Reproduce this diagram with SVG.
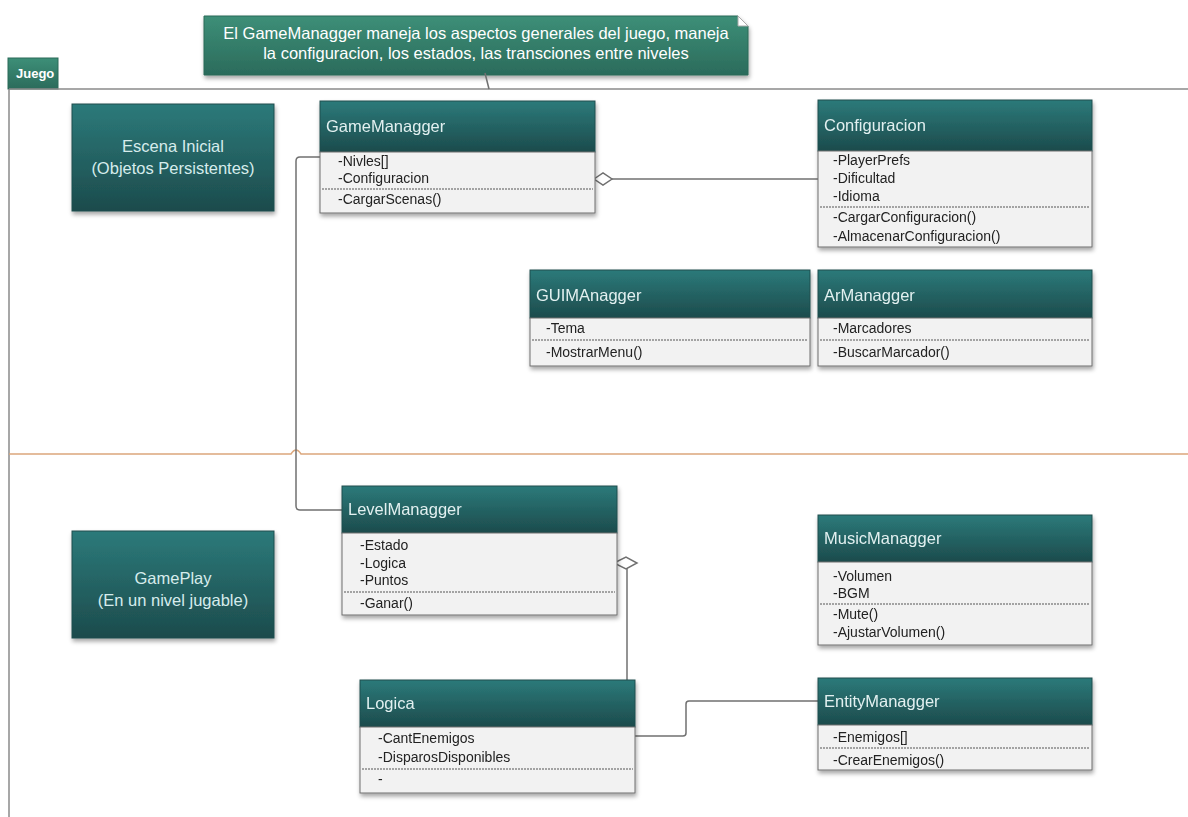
<svg xmlns="http://www.w3.org/2000/svg" width="1188" height="817" viewBox="0 0 1188 817">
  <style>
    .title { font-family: "Liberation Sans Narrow", "Liberation Sans", Arial, sans-serif; font-size: 16.5px; fill: #e2f0f0; }
    .member { font-family: "Liberation Sans Narrow", "Liberation Sans", Arial, sans-serif; font-size: 14px; fill: #222; }
    .big { font-family: "Liberation Sans Narrow", "Liberation Sans", Arial, sans-serif; font-size: 16.5px; fill: #d6ecec; text-anchor: middle; }
    .note { font-family: "Liberation Sans Narrow", "Liberation Sans", Arial, sans-serif; font-size: 16.5px; fill: #ffffff; text-anchor: middle; }
    .head { fill: url(#teal); stroke: #1e4e4f; stroke-width: 1; }
    .body { fill: #f2f2f2; stroke: #6e6e6e; stroke-width: 1; }
    .sep { stroke: #555; stroke-width: 1; stroke-dasharray: 2 1; }
    .wire { fill: none; stroke: #707070; stroke-width: 1.5; }
  </style>
  <defs>
    <linearGradient id="teal" x1="0" y1="0" x2="0" y2="1">
      <stop offset="0" stop-color="#2c7a7a"/>
      <stop offset="1" stop-color="#1c4b4c"/>
    </linearGradient>
    <linearGradient id="green" x1="0" y1="0" x2="0" y2="1">
      <stop offset="0" stop-color="#3d8f78"/>
      <stop offset="1" stop-color="#2b6b5b"/>
    </linearGradient>
    <filter id="shadow" x="-5%" y="-5%" width="110%" height="120%">
      <feDropShadow dx="1" dy="3" stdDeviation="2" flood-color="#000" flood-opacity="0.35"/>
    </filter>
  </defs>

  <rect width="1188" height="817" fill="#ffffff"/>

  <!-- package frame -->
  <g id="frame">
    <rect x="8" y="58" width="50" height="31" fill="url(#green)" stroke="#2a6a58"/>
    <text x="16" y="78" font-family="Liberation Sans Narrow, Liberation Sans, sans-serif" font-size="13" font-weight="bold" fill="#ffffff">Juego</text>
    <path d="M9 89 H1188 M9 89 V817" fill="none" stroke="#8a8a8a" stroke-width="1.5"/>
    <path d="M9 454 H291 Q296 446 301 454 H1188" fill="none" stroke="#dca77c" stroke-width="1.5"/>
  </g>

  <!-- note -->
  <g id="note">
    <path d="M204 16 H738 L748 26 V75 H204 Z" fill="url(#green)" stroke="#2a6a58" filter="url(#shadow)"/>
    <path d="M738 16 L748 26 H738 Z" fill="#ffffff" stroke="#aaaaaa"/>
    <text class="note" x="476" y="39">El GameManagger maneja los aspectos generales del juego, maneja</text>
    <text class="note" x="476" y="59">la configuracion, los estados, las transciones entre niveles</text>
  </g>

  <!-- section labels -->
  <g id="escena">
    <rect x="72" y="104" width="202" height="107" fill="url(#teal)" stroke="#1e4e4f" filter="url(#shadow)"/>
    <text class="big" x="173" y="152">Escena Inicial</text>
    <text class="big" x="173" y="174">(Objetos Persistentes)</text>
  </g>
  <g id="gameplay">
    <rect x="72" y="531" width="202" height="107" fill="url(#teal)" stroke="#1e4e4f" filter="url(#shadow)"/>
    <text class="big" x="173" y="584">GamePlay</text>
    <text class="big" x="173" y="606">(En un nivel jugable)</text>
  </g>

  <!-- connectors -->
  <g id="connectors">
    <path class="wire" d="M485 73 L489 89"/>
    <path class="wire" d="M612 179 H818"/>
    <path d="M594 179 L603 173 L612 179 L603 185 Z" fill="#ffffff" stroke="#707070" stroke-width="1.5"/>
    <path class="wire" d="M320 157 H300 Q296 157 296 161 V506 Q296 510 300 510 H342"/>
    <path class="wire" d="M627 568 V680"/>
    <path d="M614 563 L626 557 L637 563 L626 569 Z" fill="#ffffff" stroke="#707070" stroke-width="1.5"/>
    <path class="wire" d="M635 736 H683 Q686 736 686 733 V704 Q686 701 689 701 H818"/>
  </g>

  <!-- GameManagger -->
  <g id="gamemanagger" filter="url(#shadow)">
    <rect class="head" x="320" y="101" width="275" height="51"/>
    <rect class="body" x="320" y="152" width="275" height="61"/>
    <text class="title" x="326" y="132">GameManagger</text>
    <text class="member" x="338" y="166">-Nivles[]</text>
    <text class="member" x="338" y="183">-Configuracion</text>
    <line class="sep" x1="322" y1="189" x2="593" y2="189"/>
    <text class="member" x="338" y="204">-CargarScenas()</text>
  </g>

  <!-- Configuracion -->
  <g id="configuracion" filter="url(#shadow)">
    <rect class="head" x="818" y="100" width="274" height="51"/>
    <rect class="body" x="818" y="151" width="274" height="96"/>
    <text class="title" x="824" y="131">Configuracion</text>
    <text class="member" x="833" y="165">-PlayerPrefs</text>
    <text class="member" x="833" y="183">-Dificultad</text>
    <text class="member" x="833" y="201">-Idioma</text>
    <line class="sep" x1="820" y1="207" x2="1090" y2="207"/>
    <text class="member" x="833" y="222">-CargarConfiguracion()</text>
    <text class="member" x="833" y="241">-AlmacenarConfiguracion()</text>
  </g>

  <!-- GUIMAnagger -->
  <g id="guimanagger" filter="url(#shadow)">
    <rect class="head" x="530" y="270" width="280" height="48"/>
    <rect class="body" x="530" y="318" width="280" height="48"/>
    <text class="title" x="536" y="301">GUIMAnagger</text>
    <text class="member" x="546" y="333">-Tema</text>
    <line class="sep" x1="532" y1="340" x2="808" y2="340"/>
    <text class="member" x="546" y="357">-MostrarMenu()</text>
  </g>

  <!-- ArManagger -->
  <g id="armanagger" filter="url(#shadow)">
    <rect class="head" x="818" y="270" width="274" height="48"/>
    <rect class="body" x="818" y="318" width="274" height="48"/>
    <text class="title" x="824" y="301">ArManagger</text>
    <text class="member" x="833" y="333">-Marcadores</text>
    <line class="sep" x1="820" y1="340" x2="1090" y2="340"/>
    <text class="member" x="833" y="357">-BuscarMarcador()</text>
  </g>

  <!-- LevelManagger -->
  <g id="levelmanagger" filter="url(#shadow)">
    <rect class="head" x="342" y="486" width="275" height="47"/>
    <rect class="body" x="342" y="533" width="275" height="82"/>
    <text class="title" x="348" y="515">LevelManagger</text>
    <text class="member" x="360" y="550">-Estado</text>
    <text class="member" x="360" y="568">-Logica</text>
    <text class="member" x="360" y="585">-Puntos</text>
    <line class="sep" x1="344" y1="592" x2="615" y2="592"/>
    <text class="member" x="360" y="608">-Ganar()</text>
  </g>

  <!-- MusicManagger -->
  <g id="musicmanagger" filter="url(#shadow)">
    <rect class="head" x="818" y="515" width="274" height="47"/>
    <rect class="body" x="818" y="562" width="274" height="83"/>
    <text class="title" x="824" y="544">MusicManagger</text>
    <text class="member" x="833" y="581">-Volumen</text>
    <text class="member" x="833" y="598">-BGM</text>
    <line class="sep" x1="820" y1="604" x2="1090" y2="604"/>
    <text class="member" x="833" y="619">-Mute()</text>
    <text class="member" x="833" y="637">-AjustarVolumen()</text>
  </g>

  <!-- Logica -->
  <g id="logica" filter="url(#shadow)">
    <rect class="head" x="360" y="680" width="275" height="47"/>
    <rect class="body" x="360" y="727" width="275" height="66"/>
    <text class="title" x="366" y="709">Logica</text>
    <text class="member" x="378" y="743">-CantEnemigos</text>
    <text class="member" x="378" y="762">-DisparosDisponibles</text>
    <line class="sep" x1="362" y1="769" x2="633" y2="769"/>
    <text class="member" x="378" y="784">-</text>
  </g>

  <!-- EntityManagger -->
  <g id="entitymanagger" filter="url(#shadow)">
    <rect class="head" x="818" y="678" width="274" height="47"/>
    <rect class="body" x="818" y="725" width="274" height="45"/>
    <text class="title" x="824" y="707">EntityManagger</text>
    <text class="member" x="833" y="742">-Enemigos[]</text>
    <line class="sep" x1="820" y1="748" x2="1090" y2="748"/>
    <text class="member" x="833" y="765">-CrearEnemigos()</text>
  </g>
</svg>
